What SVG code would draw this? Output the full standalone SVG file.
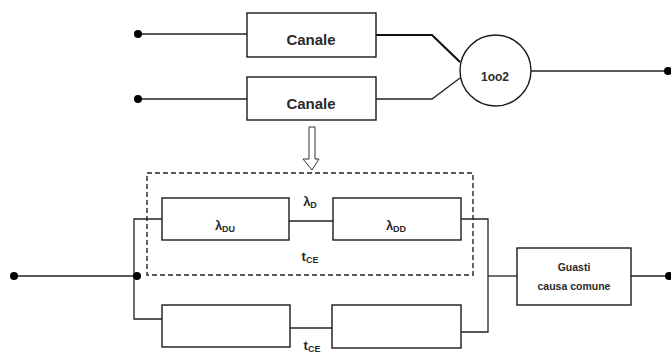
<svg xmlns="http://www.w3.org/2000/svg" width="671" height="354" viewBox="0 0 671 354">
  <style>
    .box { fill: #ffffff; stroke: #1a1a1a; stroke-width: 1.4; }
    .wire { fill: none; stroke: #222222; stroke-width: 1.3; }
    .thick { fill: none; stroke: #111111; stroke-width: 2.2; }
    .dash { fill: none; stroke: #222222; stroke-width: 1.4; stroke-dasharray: 5 3; }
    .dot { fill: #000000; }
    .lbl { font-family: "Liberation Sans", Arial, sans-serif; font-weight: bold; fill: #2a2a2a; text-anchor: middle; }
    .sub { font-size: 9px; }
  </style>
  <rect width="671" height="354" fill="#ffffff"/>

  <g id="connectors">
    <!-- upper redundant pair -->
    <line class="wire" x1="138" y1="34" x2="247" y2="34"/>
    <line class="wire" x1="138" y1="99" x2="247" y2="99"/>
    <polyline class="thick" points="376,35 432,35 460,62"/>
    <polyline class="wire" points="376,99 432,99 460,78"/>
    <line class="wire" x1="531" y1="71" x2="668" y2="71"/>
    <!-- lower model -->
    <line class="wire" x1="14" y1="276" x2="137" y2="276"/>
    <polyline class="wire" points="162,219 134,219 134,319 162,319"/>
    <line class="wire" x1="289" y1="221" x2="333" y2="221"/>
    <line class="wire" x1="290" y1="328" x2="332" y2="328"/>
    <polyline class="wire" points="461,219 488,219 488,332 461,332"/>
    <line class="wire" x1="488" y1="276" x2="517" y2="276"/>
    <line class="wire" x1="631" y1="276" x2="668" y2="276"/>
  </g>

  <g id="terminals">
    <circle class="dot" cx="138" cy="34" r="4"/>
    <circle class="dot" cx="138" cy="99" r="4"/>
    <circle class="dot" cx="668" cy="71" r="4"/>
    <circle class="dot" cx="14" cy="276" r="4"/>
    <circle class="dot" cx="137" cy="276" r="4"/>
    <circle class="dot" cx="669" cy="276" r="4"/>
  </g>

  <g id="canale-1">
    <rect class="box" x="247" y="13" width="129" height="44"/>
    <text class="lbl" x="311" y="45" font-size="15">Canale</text>
  </g>
  <g id="canale-2">
    <rect class="box" x="247" y="77" width="129" height="43"/>
    <text class="lbl" x="311" y="109" font-size="15">Canale</text>
  </g>
  <g id="voter-1oo2">
    <circle class="box" cx="495.5" cy="70.5" r="35.5"/>
    <text class="lbl" x="495" y="81" font-size="12">1oo2</text>
  </g>

  <!-- hollow arrow pointing to the expanded model -->
  <g id="expand-arrow">
    <polygon points="309,127 315,127 315,159 319,159 312,170 303,159 309,159" fill="#ffffff" stroke="#333333" stroke-width="1"/>
  </g>

  <g id="channel-group">
    <rect class="dash" x="147" y="173" width="326" height="102"/>
    <text class="lbl" x="310" y="206" font-size="13">λ<tspan class="sub" dy="2">D</tspan></text>
    <text class="lbl" x="310" y="261" font-size="13">t<tspan class="sub" dy="2">CE</tspan></text>
  </g>
  <g id="lambda-du">
    <rect class="box" x="162" y="198" width="127" height="42"/>
    <text class="lbl" x="225" y="230" font-size="13">λ<tspan class="sub" dy="2">DU</tspan></text>
  </g>
  <g id="lambda-dd">
    <rect class="box" x="333" y="198" width="128" height="42"/>
    <text class="lbl" x="396" y="230" font-size="13">λ<tspan class="sub" dy="2">DD</tspan></text>
  </g>
  <g id="lower-left">
    <rect class="box" x="162" y="305" width="128" height="42"/>
  </g>
  <g id="lower-right">
    <rect class="box" x="332" y="305" width="129" height="43"/>
  </g>
  <g id="lower-label">
    <text class="lbl" x="312" y="350" font-size="13">t<tspan class="sub" dy="2">CE</tspan></text>
  </g>
  <g id="guasti-ccf">
    <rect class="box" x="517" y="248" width="114" height="57"/>
    <text class="lbl" x="574" y="271" font-size="10.5">Guasti</text>
    <text class="lbl" x="574" y="290" font-size="10.5">causa comune</text>
  </g>
</svg>
